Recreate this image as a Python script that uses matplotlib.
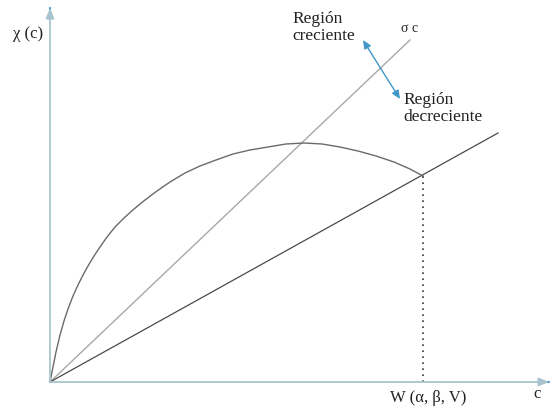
import matplotlib
matplotlib.use("Agg")
import matplotlib.pyplot as plt

plt.rcParams['font.family'] = ['Liberation Serif', 'DejaVu Serif']

# production curve x(c), read as (c, x) pairs
curve_c = [0, 3, 6, 10, 14, 18, 23, 28, 33, 38, 44, 50, 57, 65, 74, 84, 95,
           107, 120, 135, 150, 166, 183, 200, 218, 236, 254, 272, 290, 308,
           326, 344, 360, 373]
curve_x = [0, 15, 30, 47, 61, 73, 86, 97, 107, 116, 126, 135, 145, 155, 164,
           173, 182, 191, 200, 209, 216, 222, 228, 232, 235, 238, 239, 238,
           235, 231, 226, 220, 213, 206]

# ray sigma*c and the lower ray through the end of the curve
sigma_c = [0, 360]
sigma_x = [0, 342]
low_c = [0, 448]
low_x = [0, 249]

# point W(alpha, beta, V)
w_c = 373
w_x = 206

axis_col = '#a9c4cf'
arrow_col = '#3f97c9'

fig = plt.figure(figsize=(5.52, 4.13), dpi=100)
ax = fig.add_axes([0, 0, 1, 1])
ax.set_xlim(-50, 502)
ax.set_ylim(-31, 382)
ax.axis('off')

# axes with arrow heads
ax.annotate('', xy=(499, 0), xytext=(0, 0),
            arrowprops=dict(arrowstyle='-|>,head_length=0.6,head_width=0.25',
                            color=axis_col, lw=1.3, shrinkA=0, shrinkB=0))
ax.annotate('', xy=(0, 374), xytext=(0, 0),
            arrowprops=dict(arrowstyle='-|>,head_length=0.6,head_width=0.25',
                            color=axis_col, lw=1.3, shrinkA=0, shrinkB=0))
ax.plot([493, 499], [0, 0], color=arrow_col, lw=1.3)
ax.plot([0, 0], [368, 374], color=arrow_col, lw=1.3)

ax.plot(sigma_c, sigma_x, color='#a8a8a8', lw=1.0)
ax.plot(low_c, low_x, color='#4a4a4a', lw=0.9)
ax.plot(curve_c, curve_x, color='#6a6a6a', lw=1.0, solid_joinstyle='round')
ax.plot([w_c, w_c], [0, w_x], color='#333333', lw=1.2, linestyle=(0, (1, 2.6)))

# region arrows across the sigma*c ray
ax.annotate('', xy=(313, 342), xytext=(331, 313),
            arrowprops=dict(arrowstyle='-|>,head_length=0.5,head_width=0.22',
                            color=arrow_col, lw=1.0, shrinkA=0, shrinkB=0))
ax.annotate('', xy=(350, 283), xytext=(331, 313),
            arrowprops=dict(arrowstyle='-|>,head_length=0.5,head_width=0.22',
                            color=arrow_col, lw=1.0, shrinkA=0, shrinkB=0))

ax.text(-22, 348, 'χ (c)', fontsize=12, ha='center', va='center', color='#222222')
ax.text(360, 354, 'σ c', fontsize=10, ha='center', va='center', color='#222222')
ax.text(242, 371, 'Región\ncreciente', fontsize=12.5, ha='left', va='top',
        linespacing=1.1, color='#222222')
ax.text(353, 290, 'Región\ndecreciente', fontsize=12.5, ha='left', va='top',
        linespacing=1.1, color='#222222')
ax.text(378, -16, 'W (α, β, V)', fontsize=12, ha='center', va='center', color='#222222')
ax.text(487, -12, 'c', fontsize=12, ha='center', va='center', color='#222222')

fig.savefig('out.png', dpi=100)
